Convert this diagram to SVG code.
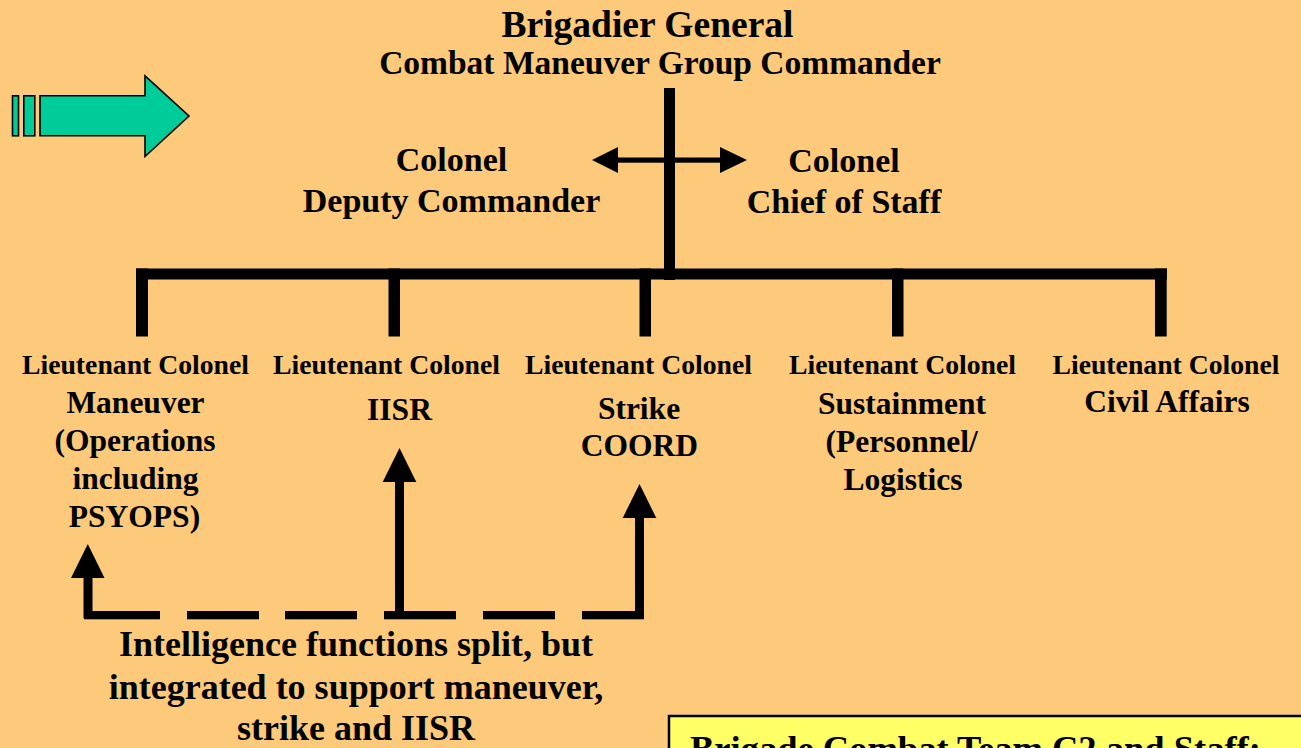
<svg xmlns="http://www.w3.org/2000/svg" width="1301" height="748" viewBox="0 0 1301 748">
<style>
text{font-family:"Liberation Serif","Times New Roman",serif;font-weight:bold;fill:#000;text-anchor:middle}
.title1{font-size:37.5px}
.title2{font-size:33.5px}
.col{font-size:34px}
.lt{font-size:28px}
.sub{font-size:31.5px}
.note{font-size:36px}
.box{font-size:36.5px;text-anchor:start}
.ln{fill:#000;stroke:none}
</style>
<rect x="0" y="0" width="1301" height="748" fill="#FDC97A"/>

<g id="nav-arrow" fill="#00CC99" stroke="#000" stroke-width="1.6" stroke-linejoin="miter">
  <rect x="12.5" y="95.8" width="6" height="40"/>
  <rect x="23.8" y="95.8" width="11" height="40"/>
  <polygon points="40,95.8 145,95.8 145,75.8 189,116 145,156.5 145,135.8 40,135.8"/>
</g>

<g id="connectors">
  <rect class="ln" x="664" y="88" width="11" height="192"/>
  <rect class="ln" x="136" y="268.5" width="1031" height="11"/>
  <rect class="ln" x="136" y="268.5" width="12" height="68"/>
  <rect class="ln" x="388.5" y="268.5" width="11.5" height="68"/>
  <rect class="ln" x="639.5" y="268.5" width="11.5" height="68"/>
  <rect class="ln" x="892" y="268.5" width="11.5" height="68"/>
  <rect class="ln" x="1155" y="268.5" width="11.7" height="68"/>
  <!-- double arrow -->
  <rect class="ln" x="616" y="157.5" width="106" height="5.2"/>
  <polygon class="ln" points="592,160 618,147 618,173"/>
  <polygon class="ln" points="747,160 720,147 720,173"/>
  <!-- dashed line -->
  <rect class="ln" x="84" y="611" width="76" height="8.3"/>
  <rect class="ln" x="187" y="611" width="72" height="8.3"/>
  <rect class="ln" x="285" y="611" width="72" height="8.3"/>
  <rect class="ln" x="384" y="611" width="72" height="8.3"/>
  <rect class="ln" x="483" y="611" width="72" height="8.3"/>
  <rect class="ln" x="582" y="611" width="62" height="8.3"/>
  <!-- up arrows -->
  <rect class="ln" x="83.5" y="576" width="9" height="42"/>
  <polygon class="ln" points="87.8,544 104.5,578 71,578"/>
  <rect class="ln" x="395" y="480" width="9" height="138"/>
  <polygon class="ln" points="399.5,448 416.3,482 382.7,482"/>
  <rect class="ln" x="635" y="516" width="9" height="101"/>
  <polygon class="ln" points="639.5,484 656.3,518 622.7,518"/>
</g>

<g id="brigadier-general">
  <text class="title1" x="647.5" y="37">Brigadier General</text>
  <text class="title2" x="660" y="74">Combat Maneuver Group Commander</text>
</g>

<g id="deputy-commander">
  <text class="col" x="451.5" y="170.5">Colonel</text>
  <text class="col" x="451.5" y="211.5">Deputy Commander</text>
</g>

<g id="chief-of-staff">
  <text class="col" x="844" y="172">Colonel</text>
  <text class="col" x="844" y="213">Chief of Staff</text>
</g>

<g id="maneuver">
  <text class="lt" x="135.5" y="373.5" textLength="227" lengthAdjust="spacingAndGlyphs">Lieutenant Colonel</text>
  <text class="sub" x="135.5" y="413">Maneuver</text>
  <text class="sub" x="135" y="451">(Operations</text>
  <text class="sub" x="135.5" y="489">including</text>
  <text class="sub" x="134.5" y="527">PSYOPS)</text>
</g>

<g id="iisr">
  <text class="lt" x="386.5" y="373.5" textLength="227" lengthAdjust="spacingAndGlyphs">Lieutenant Colonel</text>
  <text class="sub" x="399.5" y="419.5">IISR</text>
</g>

<g id="strike">
  <text class="lt" x="638.5" y="373.5" textLength="227" lengthAdjust="spacingAndGlyphs">Lieutenant Colonel</text>
  <text class="sub" x="639" y="418.5">Strike</text>
  <text class="sub" x="639.3" y="455.5">COORD</text>
</g>

<g id="sustainment">
  <text class="lt" x="902.5" y="373.5" textLength="227" lengthAdjust="spacingAndGlyphs">Lieutenant Colonel</text>
  <text class="sub" x="902" y="413.5">Sustainment</text>
  <text class="sub" x="901.6" y="451.5">(Personnel/</text>
  <text class="sub" x="903" y="489.5">Logistics</text>
</g>

<g id="civil-affairs">
  <text class="lt" x="1166" y="374" textLength="227" lengthAdjust="spacingAndGlyphs">Lieutenant Colonel</text>
  <text class="sub" x="1167" y="412">Civil Affairs</text>
</g>

<g id="intel-note">
  <text class="note" x="356" y="656">Intelligence functions split, but</text>
  <text class="note" x="356" y="699">integrated to support maneuver,</text>
  <text class="note" x="356" y="740">strike and IISR</text>
</g>

<g id="bct-box">
  <rect x="669" y="716" width="700" height="100" fill="#FFFF66" stroke="#000" stroke-width="2.5"/>
  <text class="box" x="690" y="761">Brigade Combat Team C2 and Staff:</text>
</g>
</svg>
